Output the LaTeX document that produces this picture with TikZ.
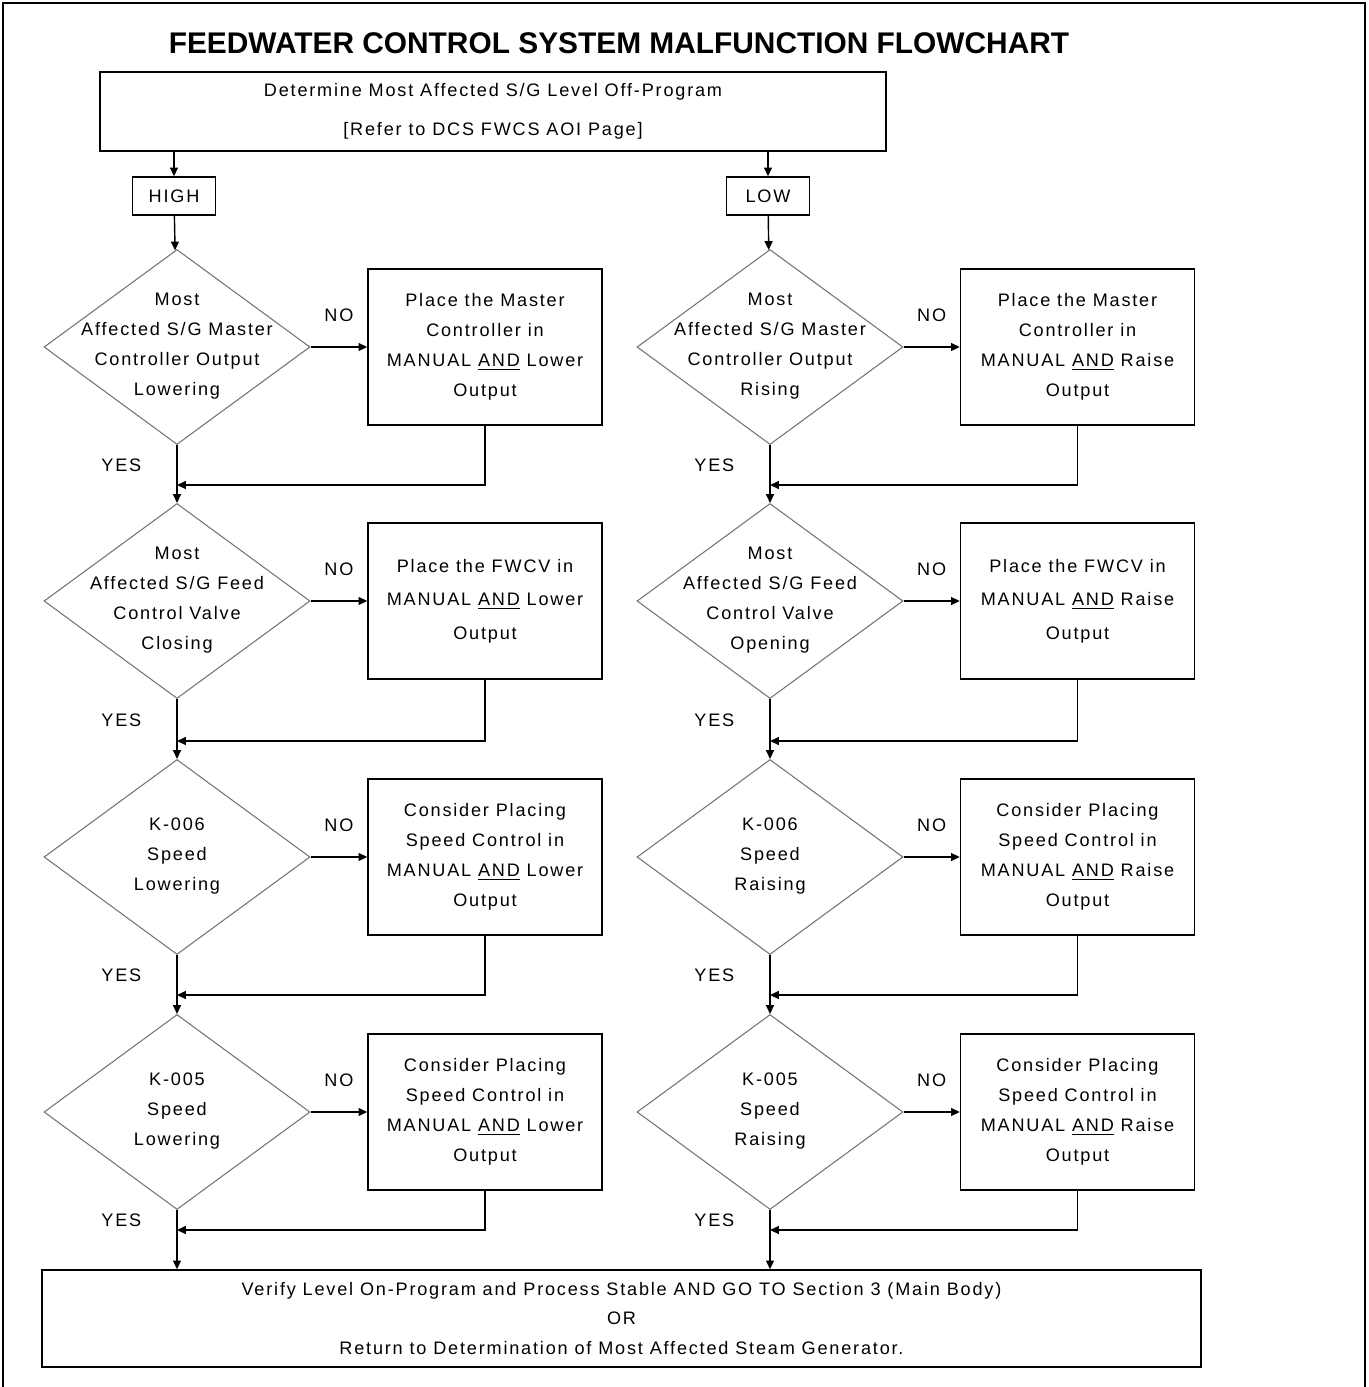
\documentclass[tikz,border=0pt]{standalone}
\usepackage{fontspec}
\setmainfont{Liberation Sans}[LetterSpace=10]
\usepackage{tikz}
\usetikzlibrary{shapes.geometric}
\usetikzlibrary{arrows.meta}
\usetikzlibrary{calc,positioning}
\tikzset{>=latex}
\colorlet{diacol}{black!55}
\newcommand{\dtext}[1]{\raisebox{-0.08cm}{\smash{\makebox[0pt]{\begin{tabular}{@{}c@{}}#1\end{tabular}}}}}

\begin{document}
\begin{tikzpicture}[x=0.02cm,y=-0.02cm]
  %--------------------------------------------
  % Styles
  %--------------------------------------------
  \def\px{0.02cm}
  \tikzset{
    chart/.style={font=\fontsize{10.3}{17}\selectfont},
    box/.style={chart, draw, line width=0.8pt, align=center, inner sep=2pt},
    stepbox/.style={box, minimum width={234*\px}, minimum height={156*\px}},
    decision/.style={chart, diamond, draw=diacol, line width=0.6pt, inner sep=0pt,
      minimum width={266*\px}, minimum height={195*\px}},
    flow/.style={-{Triangle[length=5pt,width=4.5pt]}, line width=0.8pt},
    nolbl/.style={chart, inner sep=0pt, above=0.5cm},
    yeslbl/.style={chart, inner sep=0pt, left=0.7cm}
  }

  % page frame and size
  \useasboundingbox (0,0) rectangle (1369,1387);
  \draw[line width=1.4pt] (3,1400) -- (3,3) -- (1365,3) -- (1365,1400);

  %--------------------------------------------
  % Title and start
  %--------------------------------------------
  \node[font=\fontsize{17}{20}\selectfont\bfseries\addfontfeature{LetterSpace=0}] (title) at (619,43)
    {FEEDWATER CONTROL SYSTEM MALFUNCTION FLOWCHART};
  \node[box, minimum width={786*\px}, minimum height={79*\px}] (determine) at (493,111.5)
    {Determine Most Affected S/G Level Off-Program\\[5pt]{}[Refer to DCS FWCS AOI Page]};
  \node[box, minimum width={83*\px}, minimum height={38*\px}] (high) at (174,196) {HIGH};
  \node[box, minimum width={83*\px}, minimum height={38*\px}] (low) at (768,196) {LOW};

  %--------------------------------------------
  % HIGH branch (left column)
  %--------------------------------------------
  \node[decision] (dL1) at (177,347)
    {\dtext{Most\\Affected S/G Master\\Controller Output\\Lowering}};
  \node[stepbox] (bL1) at (485,347)
    {Place the Master\\Controller in\\MANUAL \underline{AND} Lower\\Output};
  \node[decision] (dL2) at (177,601)
    {\dtext{Most\\Affected S/G Feed\\Control Valve\\Closing}};
  \node[stepbox] (bL2) at (485,601)
    {Place the FWCV in\\[2pt]MANUAL \underline{AND} Lower\\[2pt]Output};
  \node[decision] (dL3) at (177,857)
    {\dtext{K-006\\Speed\\Lowering}};
  \node[stepbox] (bL3) at (485,857)
    {Consider Placing\\Speed Control in\\MANUAL \underline{AND} Lower\\Output};
  \node[decision] (dL4) at (177,1112)
    {\dtext{K-005\\Speed\\Lowering}};
  \node[stepbox] (bL4) at (485,1112)
    {Consider Placing\\Speed Control in\\MANUAL \underline{AND} Lower\\Output};

  %--------------------------------------------
  % LOW branch (right column)
  %--------------------------------------------
  \node[decision] (dR1) at (770,347)
    {\dtext{Most\\Affected S/G Master\\Controller Output\\Rising}};
  \node[stepbox] (bR1) at (1077.5,347)
    {Place the Master\\Controller in\\MANUAL \underline{AND} Raise\\Output};
  \node[decision] (dR2) at (770,601)
    {\dtext{Most\\Affected S/G Feed\\Control Valve\\Opening}};
  \node[stepbox] (bR2) at (1077.5,601)
    {Place the FWCV in\\[2pt]MANUAL \underline{AND} Raise\\[2pt]Output};
  \node[decision] (dR3) at (770,857)
    {\dtext{K-006\\Speed\\Raising}};
  \node[stepbox] (bR3) at (1077.5,857)
    {Consider Placing\\Speed Control in\\MANUAL \underline{AND} Raise\\Output};
  \node[decision] (dR4) at (770,1112)
    {\dtext{K-005\\Speed\\Raising}};
  \node[stepbox] (bR4) at (1077.5,1112)
    {Consider Placing\\Speed Control in\\MANUAL \underline{AND} Raise\\Output};

  %--------------------------------------------
  % End box
  %--------------------------------------------
  \node[box, minimum width={1159*\px}, minimum height={97*\px}] (verify) at (621.5,1318.5)
    {Verify Level On-Program and Process Stable AND GO TO Section 3 (Main Body)\\OR\\Return to Determination of Most Affected Steam Generator.};

  %--------------------------------------------
  % Connectors
  %--------------------------------------------
  \draw[flow] (determine.south -| high) -- (high);
  \draw[flow] (determine.south -| low) -- (low);
  \draw[flow] (high) -- (dL1);
  \draw[flow] (low) -- (dR1);

  % merge points below each row
  \foreach \i/\y in {1/485,2/741,3/995,4/1230}{
    \coordinate (jL\i) at (177,\y);
    \coordinate (jR\i) at (770,\y);
  }

  \foreach \s in {L,R}{
    \foreach \i in {1,2,3,4}{
      \draw[flow] (d\s\i.east) -- node[nolbl] {NO} (b\s\i.west);
      \draw[line width=0.8pt] (d\s\i.south) -- node[yeslbl] {YES} (j\s\i);
      \draw[flow] (b\s\i.south) |- (j\s\i);
    }
    \foreach \i/\n in {1/2,2/3,3/4}{
      \draw[flow] (j\s\i) -- (d\s\n.north);
    }
    \draw[flow] (j\s4) -- (j\s4 |- verify.north);
  }
\end{tikzpicture}
\end{document}
